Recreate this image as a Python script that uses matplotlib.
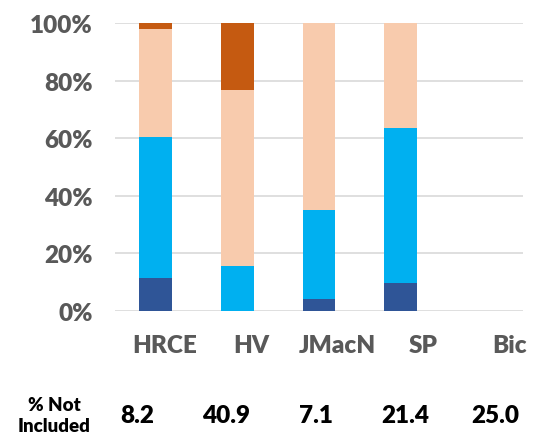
import numpy as np
import matplotlib
matplotlib.use('Agg')
from matplotlib import pyplot as plt
from matplotlib.transforms import ScaledTranslation

# kategoriler ve yığılmış yüzde değerleri
sites = ['HRCE', 'HV', 'JMacN', 'SP', 'Bic']
dark_blue = [11.3, 0.0, 4.1, 9.5, 0.0]
light_blue = [49.1, 15.7, 30.9, 54.0, 0.0]
peach = [37.5, 61.2, 65.0, 36.5, 0.0]
orange = [2.1, 23.1, 0.0, 0.0, 0.0]
not_included = ['8.2', '40.9', '7.1', '21.4', '25.0']
y_ticks = [0, 20, 40, 60, 80, 100]

plt.rcParams['font.family'] = ['Lato', 'DejaVu Sans']
plt.rcParams['font.weight'] = 'heavy'

fig = plt.figure(figsize=(5.51, 4.39), dpi=100)
ax = fig.add_axes([115 / 551, 127.3 / 439, 408 / 551, 287.4 / 439])

x = np.arange(len(sites))
bottom = np.zeros(len(sites))
for vals, col in [(dark_blue, '#2F5597'), (light_blue, '#00B0F0'),
                  (peach, '#F8CBAD'), (orange, '#C55A11')]:
    ax.bar(x, vals, 0.4, bottom=bottom, color=col, zorder=3)
    bottom += np.array(vals)

ax.set_xlim(-0.5, 4.5)
ax.set_ylim(0, 100)
ax.set_yticks(y_ticks)
ax.set_yticklabels([f'{t}%' for t in y_ticks])
ax.yaxis.grid(True, color='#D9D9D9', linewidth=1.2, zorder=0)
for s in ax.spines.values():
    s.set_visible(False)
ax.tick_params(axis='y', length=0, pad=16, labelsize=17.5, labelcolor='#595959')
ax.tick_params(axis='x', length=0, pad=17, labelsize=17.5, labelcolor='#595959')
ax.set_xticks(x)
ax.set_xticklabels(sites)
# etiketler çubuklardan biraz sağa kaymış, ona göre kaydırdım
for i, lab in enumerate(ax.get_xticklabels()):
    lab.set_transform(lab.get_transform() + ScaledTranslation((9 + 4.5 * i) / 100, 0, fig.dpi_scale_trans))

# alttaki yüzde satırı
fig.text(54 / 551, 1 - 416 / 439, '% Not\nIncluded', ha='center', va='center',
         fontsize=13.5, color='black', linespacing=1.35)
xs = np.linspace(137, 495, len(not_included)) / 551
for xp, v in zip(xs, not_included):
    fig.text(xp, 1 - 416 / 439, v, ha='center', va='center', fontsize=17.5,
             color='black')

fig.savefig('out.png', dpi=100)
